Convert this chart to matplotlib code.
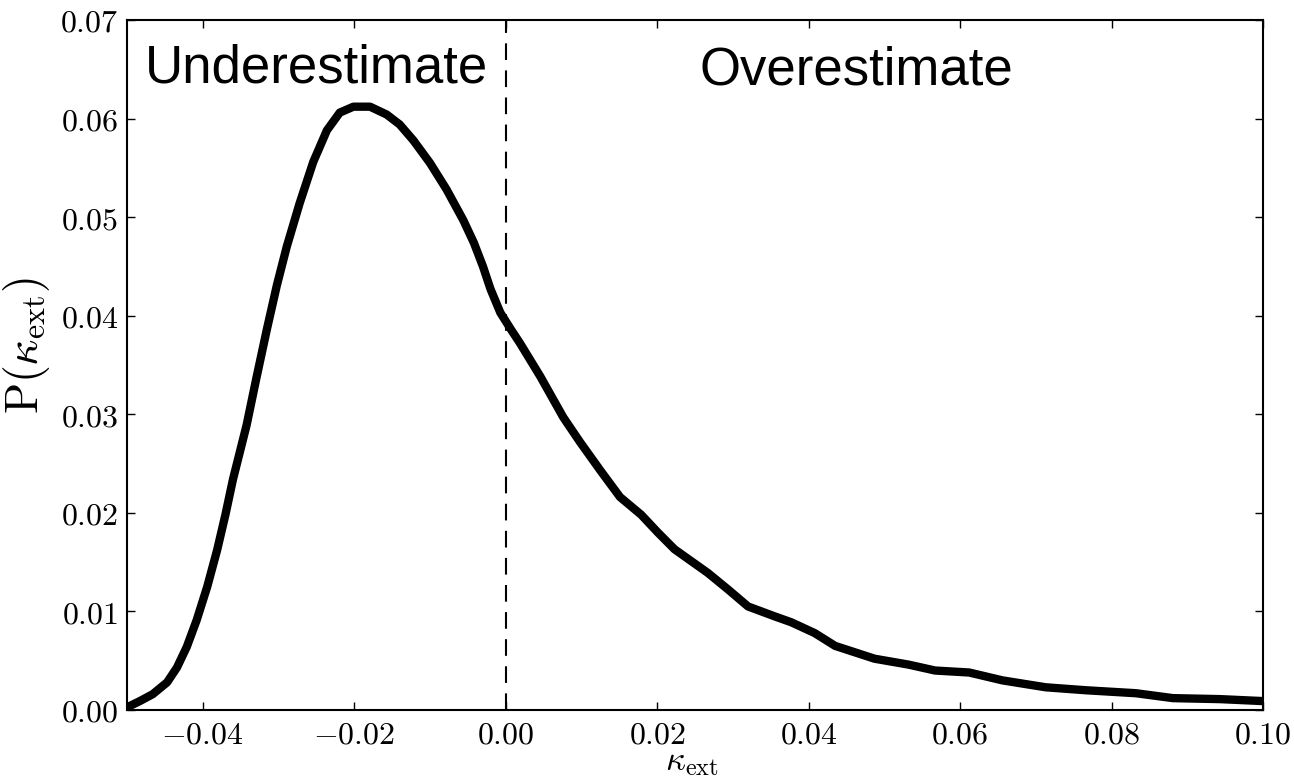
import matplotlib
matplotlib.use("Agg")
import matplotlib.pyplot as plt

# Probability density of the extinction-based convergence estimate
kappa = [-0.0499, -0.0483, -0.0466, -0.0447, -0.0434, -0.0421, -0.0408, -0.0394,
         -0.0381, -0.0370, -0.0360, -0.0342, -0.0329, -0.0315, -0.0302, -0.0289,
         -0.0272, -0.0254, -0.0236, -0.0219, -0.0201, -0.0179, -0.0157, -0.0140,
         -0.0122, -0.0100, -0.0078, -0.0056, -0.0042, -0.0030, -0.0020, -0.0007,
         0.0007, 0.0019, 0.0046, 0.0076, 0.0098, 0.0125, 0.0151, 0.0179,
         0.0201, 0.0223, 0.0267, 0.0294, 0.0320, 0.0355, 0.0377, 0.0408,
         0.0435, 0.0487, 0.0532, 0.0567, 0.0612, 0.0656, 0.0713, 0.0766,
         0.0832, 0.0881, 0.0943, 0.1000]
prob = [0.0003, 0.0009, 0.0016, 0.0028, 0.0043, 0.0064, 0.0091, 0.0125,
        0.0162, 0.0198, 0.0234, 0.0289, 0.0337, 0.0387, 0.0431, 0.0470,
        0.0514, 0.0556, 0.0588, 0.0606, 0.0612, 0.0612, 0.0604, 0.0594,
        0.0578, 0.0555, 0.0528, 0.0497, 0.0474, 0.0450, 0.0427, 0.0403,
        0.0386, 0.0372, 0.0338, 0.0297, 0.0272, 0.0243, 0.0216, 0.0198,
        0.0180, 0.0163, 0.0139, 0.0122, 0.0105, 0.0095, 0.0089, 0.0078,
        0.0065, 0.0052, 0.0046, 0.0040, 0.0038, 0.0030, 0.0023, 0.0020,
        0.0017, 0.0012, 0.0011, 0.0009]

x_ticks = [-0.04, -0.02, 0.00, 0.02, 0.04, 0.06, 0.08, 0.10]
x_tick_labels = ["$-0.04$", "$-0.02$", "$0.00$", "$0.02$", "$0.04$",
                 "$0.06$", "$0.08$", "$0.10$"]
y_ticks = [0.00, 0.01, 0.02, 0.03, 0.04, 0.05, 0.06, 0.07]
y_tick_labels = ["$0.00$", "$0.01$", "$0.02$", "$0.03$", "$0.04$",
                 "$0.05$", "$0.06$", "$0.07$"]
region_labels = ["Underestimate", "Overestimate"]

plt.rcParams["mathtext.fontset"] = "cm"

fig = plt.figure(figsize=(12.94, 7.76), dpi=100)
ax = fig.add_axes([0.0981, 0.0851, 0.8780, 0.8892])

ax.plot(kappa, prob, color="black", lw=6, solid_capstyle="round",
        solid_joinstyle="round")
ax.axvline(0.0, color="black", lw=1.5, linestyle=(0, (8, 5)))

ax.set_xlim(-0.05, 0.10)
ax.set_ylim(0.0, 0.07)
ax.set_xticks(x_ticks)
ax.set_xticklabels(x_tick_labels)
ax.set_yticks(y_ticks)
ax.set_yticklabels(y_tick_labels)
ax.tick_params(direction="in", length=6, width=1, top=True, right=True,
               labelsize=23, colors="black")
ax.tick_params(axis="x", pad=7)
ax.tick_params(axis="y", pad=6)
for sp in ax.spines.values():
    sp.set_linewidth(1.5)

ax.set_xlabel(r"$\kappa_{\rm ext}$", fontsize=25, va="center")
ax.xaxis.set_label_coords(0.497, -0.074)
ax.set_ylabel(r"$\mathrm{P}(\kappa_{\rm ext})$", fontsize=33)
ax.yaxis.set_label_coords(-0.066, 0.529)

ax.text(0.016, 0.909, region_labels[0], transform=ax.transAxes,
        fontsize=38, family="Liberation Sans", va="baseline", ha="left")
ax.text(0.504, 0.906, region_labels[1], transform=ax.transAxes,
        fontsize=38, family="Liberation Sans", va="baseline", ha="left")

fig.savefig("out.png", dpi=100)
